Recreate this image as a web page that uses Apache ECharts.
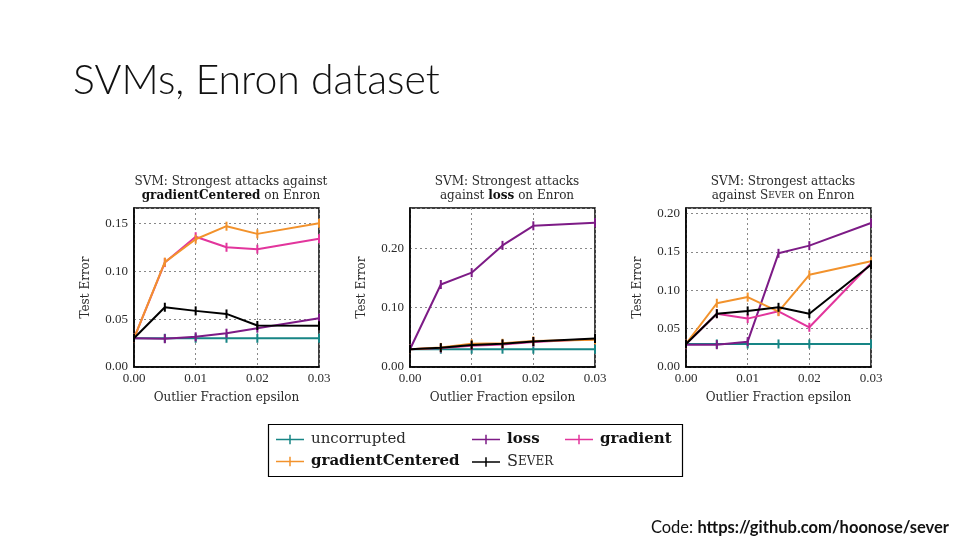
<!DOCTYPE html>
<html>
<head>
<meta charset="utf-8">
<script src="https://cdn.jsdelivr.net/npm/echarts@6/dist/echarts.min.js"></script>
<style>html,body{margin:0;padding:0;background:#fff;}#c{width:960px;height:540px;}</style>
</head>
<body>
<div id="c"></div>
<script>
// ---- data ----
const epsilons = [0, 0.005, 0.01, 0.015, 0.02, 0.03];
const xTicks = ['0.00', '0.01', '0.02', '0.03'];
const seriesNames = ['uncorrupted', 'loss', 'gradient', 'gradientCentered', 'Sever'];

// Panel 1: attacks against gradientCentered
const gcUncorrupted = [0.030, 0.030, 0.030, 0.030, 0.030, 0.030];
const gcLoss        = [0.030, 0.0295, 0.0315, 0.0353, 0.0405, 0.051];
const gcGradient    = [0.030, 0.109, 0.136, 0.125, 0.123, 0.134];
const gcGradCenter  = [0.030, 0.1095, 0.1334, 0.147, 0.139, 0.150];
const gcSever       = [0.030, 0.0624, 0.0586, 0.0554, 0.0433, 0.043];

// Panel 2: attacks against loss
const lsUncorrupted = [0.030, 0.030, 0.030, 0.030, 0.030, 0.030];
const lsLoss        = [0.030, 0.139, 0.159, 0.205, 0.238, 0.243];
const lsGradient    = [0.030, 0.032, 0.036, 0.038, 0.042, 0.047];
const lsGradCenter  = [0.030, 0.033, 0.039, 0.040, 0.044, 0.046];
const lsSever       = [0.030, 0.0326, 0.037, 0.039, 0.043, 0.048];

// Panel 3: attacks against Sever
const svUncorrupted = [0.030, 0.030, 0.030, 0.030, 0.030, 0.030];
const svLoss        = [0.029, 0.029, 0.033, 0.148, 0.158, 0.1875];
const svGradient    = [0.030, 0.0694, 0.063, 0.0725, 0.0517, 0.135];
const svGradCenter  = [0.030, 0.083, 0.091, 0.072, 0.120, 0.1376];
const svSever       = [0.030, 0.0694, 0.073, 0.0777, 0.0694, 0.133];

const yMaxes = [0.166, 0.268, 0.207];
const yIntervals = [0.05, 0.1, 0.05];

// ---- styles ----
const colors = {
  uncorrupted: '#178585',
  loss: '#7d1b86',
  gradient: '#e2359c',
  gradientCentered: '#f2922c',
  Sever: '#000000'
};
const serif = '"DejaVu Serif", "Liberation Serif", serif';
const tickFont = '"Liberation Serif", "DejaVu Serif", serif';
const txt = '#2a2a2a';
const tickMark = 'path://M0,0h1v10h-1z';
const legendIcon = 'path://M0,4.2h30v1.6h-30z M14.2,0h1.6v10h-1.6z';

const panels = [
  [gcUncorrupted, gcLoss, gcGradient, gcGradCenter, gcSever],
  [lsUncorrupted, lsLoss, lsGradient, lsGradCenter, lsSever],
  [svUncorrupted, svLoss, svGradient, svGradCenter, svSever]
];
const gridLefts = [134, 410, 686];
const titles = [
  '{n|SVM: Strongest attacks against}\n{b|gradientCentered}{n| on Enron}',
  '{n|SVM: Strongest attacks}\n{n|against }{b|loss}{n| on Enron}',
  '{n|SVM: Strongest attacks}\n{n|against S}{s|EVER}{n| on Enron}'
];

const grids = [], xAxes = [], yAxes = [], series = [], titleComps = [];
panels.forEach((p, i) => {
  grids.push({left: gridLefts[i], top: 208, width: 185, height: 159, show: true,
    borderColor: '#000', borderWidth: 1.5, backgroundColor: 'transparent'});
  xAxes.push({type: 'value', gridIndex: i, min: 0, max: 0.03, interval: 0.01,
    name: 'Outlier Fraction epsilon', nameLocation: 'middle', nameGap: 25,
    nameTextStyle: {fontFamily: serif, fontSize: 12, color: txt},
    axisLine: {show: true, lineStyle: {color: '#000', width: 1.5}},
    axisTick: {show: false},
    axisLabel: {fontFamily: tickFont, fontSize: 13, color: txt, margin: 5,
      formatter: v => xTicks[Math.round(v / 0.01)] || ''},
    splitLine: {show: true, lineStyle: {color: '#888', type: [2, 3], width: 1}}
  });
  yAxes.push({type: 'value', gridIndex: i, min: 0, max: yMaxes[i], interval: yIntervals[i],
    name: 'Test Error', nameLocation: 'middle', nameGap: 42, nameRotate: 90,
    nameTextStyle: {fontFamily: serif, fontSize: 12, color: txt},
    axisLine: {show: true, lineStyle: {color: '#000', width: 1.5}},
    axisTick: {show: false},
    axisLabel: {fontFamily: tickFont, fontSize: 13, color: txt, margin: 6, showMaxLabel: false,
      formatter: v => {
        const k = v / yIntervals[i];
        return Math.abs(k - Math.round(k)) < 1e-6 ? v.toFixed(2) : '';
      }},
    splitLine: {show: true, lineStyle: {color: '#888', type: [2, 3], width: 1}}
  });
  p.forEach((vals, j) => {
    const nm = seriesNames[j];
    series.push({
      name: nm, type: 'line', xAxisIndex: i, yAxisIndex: i,
      data: epsilons.map((e, k) => [e, vals[k]]),
      symbol: tickMark, symbolSize: [2, 9],
      showAllSymbol: true,
      lineStyle: {color: colors[nm], width: 2},
      itemStyle: {color: colors[nm]},
      animation: false, z: 2 + j
    });
  });
  titleComps.push({
    text: titles[i], left: gridLefts[i] + 92, top: 170, textAlign: 'center',
    textStyle: {fontWeight: 'normal', rich: {
      n: {fontFamily: serif, fontSize: 12, color: txt, fontWeight: 'normal', lineHeight: 14},
      b: {fontFamily: serif, fontSize: 12, color: '#111', fontWeight: 'bold', lineHeight: 14},
      s: {fontFamily: serif, fontSize: 9, color: txt, fontWeight: 'normal', lineHeight: 14}
    }}
  });
});

titleComps.push({
  text: 'SVMs, Enron dataset', left: 68, top: 55,
  textStyle: {fontFamily: 'Lato, "Open Sans", sans-serif', fontWeight: 300, fontSize: 41, color: '#111'}
});
titleComps.push({
  text: '{a|Code: }{b|https://github.com/hoonose/sever}', right: 6, top: 514,
  textStyle: {fontWeight: 'normal', rich: {
    a: {fontFamily: 'Lato, "Open Sans", sans-serif', fontSize: 16.5, color: '#111', fontWeight: 'normal'},
    b: {fontFamily: 'Lato, "Open Sans", sans-serif', fontSize: 16.5, color: '#111', fontWeight: 'bold'}
  }}
});

// Legend: one component per entry
const legendRich = {
  n: {fontFamily: serif, fontSize: 15, color: txt, fontWeight: 'normal'},
  b: {fontFamily: serif, fontSize: 15, color: '#111', fontWeight: 'bold'},
  s: {fontFamily: serif, fontSize: 12, color: txt, fontWeight: 'normal'},
  S: {fontFamily: serif, fontSize: 16, color: txt, fontWeight: 'normal'}
};
const legendPos = [[276, 432], [472, 432], [565, 432], [276, 454], [472, 454]];
const legendFmt = {
  uncorrupted: '{n|uncorrupted}',
  loss: '{b|loss}',
  gradient: '{b|gradient}',
  gradientCentered: '{b|gradientCentered}',
  Sever: '{S|S}{s|EVER}'
};
const legends = seriesNames.map((nm, j) => ({
  data: [nm], left: legendPos[j][0], top: legendPos[j][1],
  icon: legendIcon, itemWidth: 28, itemHeight: 10, itemGap: 0,
  padding: 0,
  formatter: n => legendFmt[n],
  textStyle: {rich: legendRich, padding: [0, 0, 0, 2]}
}));

const chart = echarts.init(document.getElementById('c'), null, {renderer: 'canvas'});
chart.setOption({
  backgroundColor: '#fff',
  animation: false,
  title: titleComps,
  grid: grids,
  xAxis: xAxes,
  yAxis: yAxes,
  legend: legends,
  series: series,
  graphic: [{
    type: 'rect', shape: {x: 268.5, y: 424.5, width: 414, height: 52},
    style: {fill: 'none', stroke: '#000', lineWidth: 1.2}, silent: true, z: 0
  }]
});
</script>
</body>
</html>
